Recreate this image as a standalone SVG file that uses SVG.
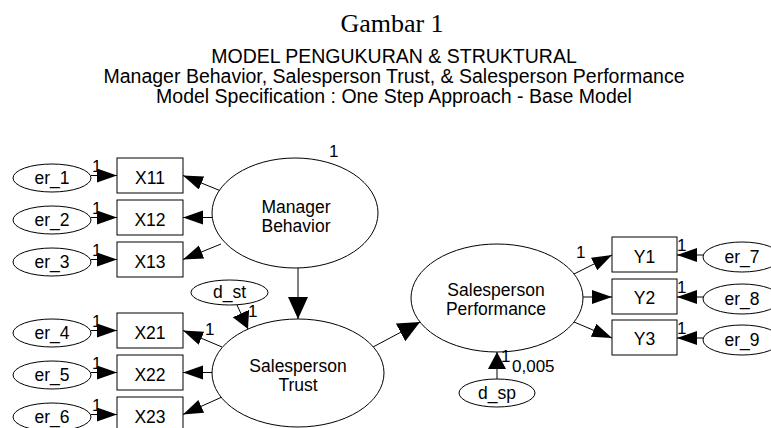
<svg xmlns="http://www.w3.org/2000/svg" width="771" height="428" viewBox="0 0 771 428">
<style>
.n{fill:#fff;stroke:#000;stroke-width:1}
.t{font-family:"Liberation Sans",Arial,sans-serif;font-size:17.5px;fill:#000;text-anchor:middle}
.l{font-family:"Liberation Sans",Arial,sans-serif;font-size:17px;fill:#000}
.h{font-family:"Liberation Sans",Arial,sans-serif;font-size:19.5px;fill:#000;text-anchor:middle}
.c line{stroke:#000;stroke-width:1}
.s{marker-end:url(#ms)}
.b{marker-end:url(#mb)}
.m{marker-end:url(#mm)}
</style>
<defs>
<marker id="ms" markerUnits="userSpaceOnUse" markerWidth="22" markerHeight="16" refX="20" refY="7" orient="auto"><path d="M0,0 L20,7 L0,14 z" fill="#000"/></marker>
<marker id="mb" markerUnits="userSpaceOnUse" markerWidth="24" markerHeight="22" refX="22" refY="10" orient="auto"><path d="M0,0 L22,10 L0,20 z" fill="#000"/></marker>
<marker id="mm" markerUnits="userSpaceOnUse" markerWidth="20" markerHeight="20" refX="17" refY="9" orient="auto"><path d="M0,0 L17,9 L0,18 z" fill="#000"/></marker>
</defs>
<rect width="771" height="428" fill="#fff"/>
<g id="title">
<text x="392" y="32" font-family="'Liberation Serif','Times New Roman',serif" font-size="26" text-anchor="middle">Gambar 1</text>
<text class="h" x="394" y="63">MODEL PENGUKURAN &amp; STRUKTURAL</text>
<text class="h" x="394" y="83">Manager Behavior, Salesperson Trust, &amp; Salesperson Performance</text>
<text class="h" x="394" y="103">Model Specification : One Step Approach - Base Model</text>
</g>
<g class="c" id="connectors">
<line class="s" x1="91" y1="175.5" x2="117" y2="175.5"/>
<line class="s" x1="91" y1="217.5" x2="117" y2="217.5"/>
<line class="s" x1="91" y1="259.5" x2="117" y2="259.5"/>
<line class="s" x1="91" y1="330.5" x2="117" y2="330.5"/>
<line class="s" x1="91" y1="372.5" x2="117" y2="372.5"/>
<line class="s" x1="91" y1="414.5" x2="117" y2="414.5"/>
<line class="s" x1="703" y1="255" x2="677" y2="255"/>
<line class="s" x1="703" y1="297" x2="677" y2="297"/>
<line class="s" x1="703" y1="338" x2="677" y2="338"/>
<line class="s" x1="221" y1="191" x2="183" y2="175.5"/>
<line class="s" x1="212" y1="217.5" x2="183" y2="217.5"/>
<line class="s" x1="221" y1="244" x2="183" y2="259.5"/>
<line class="s" x1="222" y1="347" x2="183" y2="330.5"/>
<line class="s" x1="212" y1="372.5" x2="183" y2="372.5"/>
<line class="s" x1="222" y1="397" x2="183" y2="414.5"/>
<line class="s" x1="574" y1="274" x2="612" y2="255"/>
<line class="s" x1="583" y1="297" x2="612" y2="297"/>
<line class="s" x1="574" y1="322" x2="612" y2="338"/>
<line class="b" x1="298" y1="268" x2="298" y2="319"/>
<line class="b" x1="373" y1="347" x2="420" y2="322"/>
<line class="m" x1="237" y1="305" x2="248" y2="329"/>
<line class="m" x1="497" y1="379" x2="497" y2="352"/>
</g>
<g id="er_1"><ellipse class="n" cx="52" cy="178" rx="39" ry="14"/><text class="t" x="52" y="184">er_1</text></g>
<g id="er_2"><ellipse class="n" cx="52" cy="220" rx="39" ry="14"/><text class="t" x="52" y="226">er_2</text></g>
<g id="er_3"><ellipse class="n" cx="52" cy="262" rx="39" ry="14"/><text class="t" x="52" y="268">er_3</text></g>
<g id="er_4"><ellipse class="n" cx="52" cy="333" rx="39" ry="14"/><text class="t" x="52" y="339">er_4</text></g>
<g id="er_5"><ellipse class="n" cx="52" cy="375" rx="39" ry="14"/><text class="t" x="52" y="381">er_5</text></g>
<g id="er_6"><ellipse class="n" cx="52" cy="417" rx="39" ry="14"/><text class="t" x="52" y="423">er_6</text></g>
<g id="X11"><rect class="n" x="117" y="158" width="66" height="35"/><text class="t" x="150" y="184">X11</text></g>
<g id="X12"><rect class="n" x="117" y="200" width="66" height="35"/><text class="t" x="150" y="226">X12</text></g>
<g id="X13"><rect class="n" x="117" y="242" width="66" height="35"/><text class="t" x="150" y="268">X13</text></g>
<g id="X21"><rect class="n" x="117" y="313" width="66" height="35"/><text class="t" x="150" y="339">X21</text></g>
<g id="X22"><rect class="n" x="117" y="355" width="66" height="35"/><text class="t" x="150" y="381">X22</text></g>
<g id="X23"><rect class="n" x="117" y="397" width="66" height="35"/><text class="t" x="150" y="423">X23</text></g>
<g id="ManagerBehavior"><ellipse class="n" cx="295" cy="213" rx="83" ry="55"/><text class="t" x="296" y="212.5">Manager</text><text class="t" x="296" y="231.5">Behavior</text></g>
<g id="d_st"><ellipse class="n" cx="229.5" cy="292.5" rx="38.5" ry="12.5"/><text class="t" x="229.5" y="298">d_st</text></g>
<g id="SalespersonTrust"><ellipse class="n" cx="298" cy="373" rx="86" ry="54"/><text class="t" x="298" y="371.5">Salesperson</text><text class="t" x="298" y="390.5">Trust</text></g>
<g id="SalespersonPerformance"><ellipse class="n" cx="497" cy="298" rx="86" ry="54"/><text class="t" x="496" y="295.5">Salesperson</text><text class="t" x="496" y="314.5">Performance</text></g>
<g id="d_sp"><ellipse class="n" cx="497" cy="393" rx="38" ry="14"/><text class="t" x="497" y="399">d_sp</text></g>
<g id="Y1"><rect class="n" x="612" y="237" width="65" height="35"/><text class="t" x="644.5" y="263">Y1</text></g>
<g id="Y2"><rect class="n" x="612" y="279" width="65" height="35"/><text class="t" x="644.5" y="304">Y2</text></g>
<g id="Y3"><rect class="n" x="612" y="320" width="65" height="35"/><text class="t" x="644.5" y="345">Y3</text></g>
<g id="er_7"><ellipse class="n" cx="742" cy="257" rx="39" ry="15"/><text class="t" x="742" y="263">er_7</text></g>
<g id="er_8"><ellipse class="n" cx="742" cy="299" rx="39" ry="15"/><text class="t" x="742" y="305">er_8</text></g>
<g id="er_9"><ellipse class="n" cx="742" cy="340" rx="39" ry="15"/><text class="t" x="742" y="346">er_9</text></g>
<g id="labels">
<text class="l" x="92" y="172">1</text>
<text class="l" x="92" y="214">1</text>
<text class="l" x="92" y="256">1</text>
<text class="l" x="92" y="327">1</text>
<text class="l" x="92" y="369">1</text>
<text class="l" x="92" y="411">1</text>
<text class="l" x="677" y="251">1</text>
<text class="l" x="677" y="293">1</text>
<text class="l" x="677" y="334">1</text>
<text class="l" x="329" y="157">1</text>
<text class="l" x="205" y="335">1</text>
<text class="l" x="248" y="317">1</text>
<text class="l" x="576" y="258">1</text>
<text class="l" x="501" y="362">1</text>
<text class="l" x="512" y="372">0,005</text>
</g>
</svg>
